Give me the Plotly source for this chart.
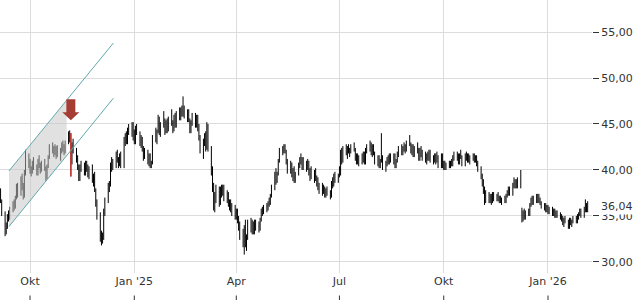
import numpy as np
import pandas as pd
import plotly.graph_objects as go

# ---------------- data ----------------
start_date = "2024-09-04"

opens = [
    38.2,37.8,36.6,35.3,33.4,34.0,35.0,34.8,35.8,36.2,
    36.0,37.0,38.2,37.4,39.0,38.0,37.2,39.6,41.6,40.6,
    40.0,39.8,40.8,40.2,39.6,41.0,40.4,40.0,40.8,40.2,
    39.2,40.4,41.4,42.6,42.0,42.4,41.8,42.4,41.6,42.2,
    42.8,42.4,42.0,43.0,43.8,43.4,41.0,42.6,42.0,41.2,
    40.4,39.0,40.4,40.2,39.6,40.8,40.0,39.4,40.2,38.8,
    39.4,37.8,36.4,35.0,32.8,33.0,32.6,35.4,36.6,38.2,
    38.4,40.4,41.0,40.4,41.8,41.0,40.6,41.6,40.4,43.2,
    43.6,43.0,44.4,44.0,44.8,43.6,43.0,44.6,44.0,42.8,
    43.4,42.2,41.4,42.0,40.8,41.6,40.6,40.8,43.6,43.2,
    44.2,45.6,44.0,45.0,45.2,44.2,45.2,44.4,45.4,45.0,
    44.4,45.8,44.8,46.2,45.6,46.6,46.0,46.8,45.8,46.4,
    45.4,44.2,45.2,46.0,44.8,45.8,44.6,43.6,42.2,43.0,
    43.8,42.4,44.6,42.4,40.0,38.0,36.0,37.2,38.0,36.4,
    38.0,37.4,38.2,36.8,37.4,36.2,36.6,35.6,36.0,35.0,
    35.4,34.6,33.8,32.8,32.0,33.6,32.2,32.6,34.4,33.4,
    34.2,33.2,34.4,33.8,34.0,34.6,35.6,35.4,36.0,35.8,
    36.4,36.6,37.2,38.2,39.6,38.8,39.6,41.0,42.2,42.0,
    42.6,42.0,40.8,39.8,40.6,39.4,40.0,38.8,39.6,40.6,
    41.2,40.8,41.2,40.2,40.8,40.4,39.6,40.0,39.2,39.8,
    39.0,38.6,38.0,38.4,37.6,38.0,37.4,37.8,37.4,37.2,
    38.6,38.4,39.4,38.8,39.4,40.2,41.8,41.0,42.4,41.8,
    42.4,42.0,42.2,42.6,42.2,41.2,41.6,40.8,41.4,41.0,
    41.8,40.8,42.2,42.6,42.4,41.8,42.6,41.8,40.8,41.4,
    40.4,41.0,41.4,40.2,40.8,41.2,40.8,41.6,41.0,41.6,
    40.4,41.0,41.8,42.4,41.8,42.4,42.6,42.2,43.0,42.8,
    42.0,42.6,41.6,42.4,42.2,41.2,42.2,41.6,41.8,41.0,
    41.6,41.2,42.0,41.0,41.4,41.0,41.6,41.0,40.4,41.6,
    40.4,40.8,40.2,40.6,40.4,40.8,40.6,41.4,41.8,41.2,
    40.8,41.6,41.4,40.6,41.6,41.2,41.6,41.0,41.4,41.6,
    41.0,41.4,40.6,40.0,39.2,38.6,37.8,36.6,37.4,36.8,
    37.2,36.6,37.4,36.8,37.2,36.8,37.0,36.6,36.8,36.6,
    37.2,37.6,38.0,37.4,38.4,38.8,38.2,38.8,38.2,35.6,
    34.6,35.4,34.8,35.4,35.2,36.2,36.8,36.4,37.0,36.6,
    37.2,36.6,36.4,36.0,36.2,35.6,36.0,35.4,35.8,35.2,
    35.6,35.0,35.4,35.0,34.8,34.6,34.2,34.6,34.4,33.8,
    34.6,34.2,34.4,34.8,34.4,35.0,35.2,35.6,35.0,35.8,
    36.2,35.6,
]

highs = [
    38.8,38.0,36.8,35.5,34.3,35.2,35.6,36.0,36.6,36.8,
    37.2,38.5,38.6,39.3,39.6,38.6,40.0,42.2,41.8,41.2,
    40.4,41.0,41.4,40.6,41.2,41.6,40.8,41.0,41.2,40.4,
    40.6,41.6,42.8,43.0,42.6,42.8,42.6,42.7,42.4,43.0,
    43.2,42.8,43.2,44.2,44.3,44.0,43.0,43.4,42.4,41.6,
    40.6,40.6,41.0,40.8,41.0,41.0,40.6,40.4,40.6,39.6,
    39.8,38.0,36.8,35.4,33.4,33.2,35.8,37.0,38.6,38.8,
    40.8,41.4,41.2,42.0,42.2,41.4,41.8,42.0,43.6,44.0,
    44.2,44.6,45.0,45.2,45.2,44.4,44.8,45.0,44.2,43.8,
    43.6,42.6,42.4,42.2,41.8,41.8,41.0,43.8,44.6,44.4,
    46.0,45.8,45.2,46.4,45.6,45.4,45.6,45.8,46.6,45.4,
    46.0,46.2,46.4,46.8,46.8,47.0,48.0,47.0,46.6,46.6,
    45.6,45.4,46.2,46.2,46.0,46.0,45.0,43.8,43.4,44.0,
    44.2,45.2,45.0,42.6,40.4,38.6,37.6,38.4,38.2,38.2,
    38.4,38.4,38.4,37.8,37.6,36.8,36.8,36.4,36.2,35.8,
    35.8,35.0,34.4,33.6,34.0,34.6,33.0,34.6,34.8,34.6,
    34.4,34.6,34.6,34.4,34.8,35.8,36.0,36.2,36.4,36.6,
    37.0,37.4,38.4,39.8,40.2,39.8,41.2,42.4,42.6,42.8,
    42.8,42.2,41.2,41.0,40.8,40.2,40.4,39.8,40.8,41.4,
    41.8,41.4,41.4,41.0,41.2,41.0,40.2,40.4,40.0,40.2,
    39.4,39.2,38.6,38.6,38.4,38.2,38.0,38.2,37.8,38.8,
    39.2,39.6,39.8,39.6,40.4,42.2,42.4,42.6,42.8,42.6,
    42.8,42.4,42.8,43.0,42.4,41.8,41.8,41.6,41.8,42.0,
    42.0,42.4,42.8,43.2,43.0,42.8,42.8,42.0,41.6,41.6,
    41.2,44.0,41.6,41.0,41.4,41.6,41.8,41.8,41.8,41.8,
    41.2,42.0,42.6,42.8,42.6,43.0,42.8,43.2,43.8,43.0,
    42.8,42.8,42.6,43.0,42.4,42.4,42.6,42.2,42.0,41.8,
    42.0,42.2,42.2,41.6,41.8,41.8,42.0,41.6,41.8,41.8,
    41.0,41.0,40.8,41.0,41.0,41.2,41.6,42.0,42.0,41.8,
    41.8,42.2,41.6,41.8,42.0,41.8,41.8,41.6,41.8,41.8,
    41.6,41.6,41.0,40.4,39.6,39.0,38.2,37.8,37.6,37.4,
    37.4,37.6,37.6,37.4,37.6,37.2,37.2,37.0,37.2,37.4,
    37.8,38.2,38.2,38.6,39.2,39.0,39.0,39.2,40.0,35.9,
    35.6,35.8,35.6,35.8,36.4,37.0,37.2,37.2,37.4,37.4,
    37.4,37.0,36.6,36.4,36.4,36.2,36.2,36.0,36.0,35.8,
    35.8,35.6,35.6,35.4,35.2,35.0,34.8,35.0,34.6,34.8,
    34.8,34.6,35.0,35.0,35.2,35.4,35.8,35.8,36.0,36.8,
    36.4,36.6,
]

lows = [
    37.6,36.4,35.0,32.8,33.0,33.6,34.4,34.6,35.4,35.6,
    35.8,36.8,37.0,37.2,37.8,36.8,37.0,39.4,40.2,39.6,
    39.3,39.6,40.0,39.4,39.4,40.2,39.6,39.8,39.9,38.8,
    39.0,40.2,41.2,41.8,41.4,41.6,41.2,41.4,41.0,41.8,
    42.0,41.6,41.8,42.8,43.0,39.3,40.6,41.8,40.8,40.0,
    38.8,38.8,39.8,39.4,39.4,39.8,39.2,39.0,38.6,38.2,
    37.6,36.0,34.6,32.2,31.8,32.0,32.4,35.0,36.4,37.6,
    38.2,39.8,40.0,40.2,40.8,40.2,40.4,40.2,40.2,42.6,
    42.8,42.8,43.8,43.6,43.2,42.8,42.8,43.8,42.6,42.4,
    42.0,41.0,41.2,40.6,40.4,40.2,40.2,40.6,43.0,42.8,
    44.0,43.8,43.6,44.6,43.8,44.0,44.0,44.2,44.8,44.0,
    44.2,44.6,44.6,45.4,45.4,45.8,45.8,45.6,45.2,45.2,
    44.0,44.0,44.8,44.6,44.6,44.2,43.2,41.8,41.2,42.6,
    42.0,42.2,42.0,39.4,37.6,35.6,35.4,36.4,36.0,36.2,
    37.0,37.2,36.6,36.4,36.0,35.6,35.4,35.0,34.6,34.6,
    34.2,33.4,32.4,31.6,30.8,31.6,31.2,32.4,33.2,33.0,
    33.0,33.0,33.4,33.2,33.4,34.4,35.0,35.2,35.4,35.6,
    36.0,36.2,37.0,37.8,38.4,38.6,39.4,40.8,41.6,41.8,
    41.8,40.6,39.6,39.6,39.2,38.8,38.6,38.6,39.4,40.2,
    40.6,40.0,40.0,39.8,40.0,39.4,38.8,39.0,38.6,38.8,
    38.2,37.8,37.4,37.2,37.4,37.0,37.0,37.2,36.8,37.0,
    38.0,38.2,38.6,38.6,39.2,39.4,40.6,40.8,41.6,41.2,
    41.8,41.4,41.8,42.0,41.0,40.6,40.6,40.4,40.6,40.8,
    40.6,40.6,41.8,42.0,41.6,41.4,41.6,40.6,40.4,40.2,
    40.2,40.8,40.0,39.8,40.4,40.6,40.6,40.8,40.6,40.2,
    40.2,40.8,41.4,41.6,41.6,42.0,41.8,42.0,42.6,41.8,
    41.6,41.4,41.4,41.8,41.0,41.0,41.4,41.0,40.8,40.6,
    41.0,41.0,40.8,40.6,40.8,40.6,40.8,40.2,40.2,40.2,
    40.0,40.0,40.0,40.2,40.2,40.4,40.4,41.0,41.0,40.6,
    40.6,41.2,40.4,40.4,41.0,40.8,40.8,40.6,41.0,40.8,
    40.8,40.4,39.8,39.0,38.2,37.4,36.2,36.4,36.4,36.4,
    36.2,36.4,36.6,36.6,36.6,36.4,36.4,36.2,36.4,36.4,
    37.0,37.2,37.2,37.2,38.0,38.0,38.0,38.0,38.0,34.3,
    34.4,34.6,34.6,35.0,35.0,36.0,36.2,36.2,36.4,36.4,
    36.4,36.2,35.8,35.6,35.4,35.4,35.2,35.2,35.0,35.0,
    34.8,34.8,34.8,34.6,34.4,34.0,33.8,34.2,33.6,33.6,
    34.0,33.8,34.2,34.2,34.2,34.6,35.0,34.8,34.8,35.4,
    35.4,35.4,
]

closes = [
    37.8,36.6,35.3,33.4,34.0,35.0,34.8,35.8,36.2,36.0,
    37.0,38.2,37.4,39.0,38.0,37.2,39.6,41.6,40.6,40.0,
    39.8,40.8,40.2,39.6,41.0,40.4,40.0,40.8,40.2,39.2,
    40.4,41.4,42.6,42.0,42.4,41.8,42.4,41.6,42.2,42.8,
    42.4,42.0,43.0,43.8,43.4,41.0,42.6,42.0,41.2,40.4,
    39.0,40.4,40.2,39.6,40.8,40.0,39.4,40.2,38.8,39.4,
    37.8,36.4,35.0,32.8,33.0,32.6,35.4,36.6,38.2,38.4,
    40.4,41.0,40.4,41.8,41.0,40.6,41.6,40.4,43.2,43.6,
    43.0,44.4,44.0,44.8,43.6,43.0,44.6,44.0,42.8,43.4,
    42.2,41.4,42.0,40.8,41.6,40.6,40.8,43.6,43.2,44.2,
    45.6,44.0,45.0,45.2,44.2,45.2,44.4,45.4,45.0,44.4,
    45.8,44.8,46.2,45.6,46.6,46.0,46.8,45.8,46.4,45.4,
    44.2,45.2,46.0,44.8,45.8,44.6,43.6,42.2,43.0,43.8,
    42.4,44.6,42.4,40.0,38.0,36.0,37.2,38.0,36.4,38.0,
    37.4,38.2,36.8,37.4,36.2,36.6,35.6,36.0,35.0,35.4,
    34.6,33.8,32.8,32.0,33.6,32.2,32.6,34.4,33.4,34.2,
    33.2,34.4,33.8,34.0,34.6,35.6,35.4,36.0,35.8,36.4,
    36.6,37.2,38.2,39.6,38.8,39.6,41.0,42.2,42.0,42.6,
    42.0,40.8,39.8,40.6,39.4,40.0,38.8,39.6,40.6,41.2,
    40.8,41.2,40.2,40.8,40.4,39.6,40.0,39.2,39.8,39.0,
    38.6,38.0,38.4,37.6,38.0,37.4,37.8,37.4,37.2,38.6,
    38.4,39.4,38.8,39.4,40.2,41.8,41.0,42.4,41.8,42.4,
    42.0,42.2,42.6,42.2,41.2,41.6,40.8,41.4,41.0,41.8,
    40.8,42.2,42.6,42.4,41.8,42.6,41.8,40.8,41.4,40.4,
    41.0,41.4,40.2,40.8,41.2,40.8,41.6,41.0,41.6,40.4,
    41.0,41.8,42.4,41.8,42.4,42.6,42.2,43.0,42.8,42.0,
    42.6,41.6,42.4,42.2,41.2,42.2,41.6,41.8,41.0,41.6,
    41.2,42.0,41.0,41.4,41.0,41.6,41.0,40.4,41.6,40.4,
    40.8,40.2,40.6,40.4,40.8,40.6,41.4,41.8,41.2,40.8,
    41.6,41.4,40.6,41.6,41.2,41.6,41.0,41.4,41.6,41.0,
    41.4,40.6,40.0,39.2,38.6,37.8,36.6,37.4,36.8,37.2,
    36.6,37.4,36.8,37.2,36.8,37.0,36.6,36.8,36.6,37.2,
    37.6,38.0,37.4,38.4,38.8,38.2,38.8,38.2,39.6,34.6,
    35.4,34.8,35.4,35.2,36.2,36.8,36.4,37.0,36.6,37.2,
    36.6,36.4,36.0,36.2,35.6,36.0,35.4,35.8,35.2,35.6,
    35.0,35.4,35.0,34.8,34.6,34.2,34.6,34.4,33.8,34.6,
    34.2,34.4,34.8,34.4,35.0,35.2,35.6,35.0,35.8,36.2,
    35.6,36.04,
]

signal_index = 45            # highlighted (red) bar under the arrow
last_price = 36.04
last_price_label = "36,04"

# trend channel (drawn annotation)
channel_dates = ["2024-09-12 10:00", "2024-12-13 12:00"]
channel_upper = [39.9, 53.8]
channel_lower = [33.85, 47.8]
shade_end_date = "2024-11-02 07:00"

tick_dates = ["2024-10-01", "2025-01-01", "2025-04-01", "2025-07-01", "2025-10-01", "2026-01-01"]
tick_labels = ["Okt", "Jan '25", "Apr", "Jul", "Okt", "Jan '26"]

x_range = ["2024-09-04 12:00", "2026-02-08 20:00"]
y_range = [28.8, 58.48]

# ---------------- figure ----------------
n = len(closes)
assert len(opens) == n and len(highs) == n and len(lows) == n, (len(opens), len(highs), len(lows), n)
dates = pd.bdate_range(start_date, periods=n)

FONT = "DejaVu Sans"
GRID = "#dcdcdc"
TEAL = "#5fa9ad"
TXT = "#333333"

fig = go.Figure()

# shaded part of the channel
cd = pd.to_datetime(channel_dates).astype("int64").to_numpy()
se = pd.Timestamp(shade_end_date).value
up_end = float(np.interp(se, cd, channel_upper))
lo_end = float(np.interp(se, cd, channel_lower))
fig.add_trace(go.Scatter(
    x=[channel_dates[0], shade_end_date, shade_end_date, channel_dates[0], channel_dates[0]],
    y=[channel_upper[0], up_end, lo_end, channel_lower[0], channel_upper[0]],
    fill="toself", fillcolor="rgba(195,195,195,0.5)", line=dict(width=0),
    mode="lines", hoverinfo="skip"))

fig.add_trace(go.Ohlc(
    x=dates, open=opens, high=highs, low=lows, close=closes,
    increasing=dict(line=dict(color="black", width=1)),
    decreasing=dict(line=dict(color="black", width=1)),
    tickwidth=0.4))

si = signal_index
fig.add_trace(go.Ohlc(
    x=[dates[si]], open=[opens[si]], high=[highs[si]], low=[lows[si]], close=[closes[si]],
    increasing=dict(line=dict(color="#d23b35", width=1.4)),
    decreasing=dict(line=dict(color="#d23b35", width=1.4)),
    tickwidth=0.4))

for ys in (channel_upper, channel_lower):
    fig.add_trace(go.Scatter(x=channel_dates, y=ys, mode="lines",
                             line=dict(color=TEAL, width=1), hoverinfo="skip"))

# arrow above the signal bar (pixel-sized, anchored to the bar's high)
fig.add_shape(type="path", xref="x", yref="y", xsizemode="pixel", ysizemode="pixel",
              xanchor=dates[si], yanchor=highs[si],
              path="M -4.5,34 L 4.5,34 L 4.5,21 L 8.5,21 L 0,13 L -8.5,21 L -4.5,21 Z",
              fillcolor="#a63d34", line=dict(width=0), layer="above")

# small tick marks at the very bottom under the date labels
for d in tick_dates:
    fig.add_shape(type="line", xref="x", yref="paper", x0=d, x1=d, y0=0, y1=0.015,
                  line=dict(color=TXT, width=1))

# last price label
fig.add_annotation(x=1, xref="paper", y=last_price, yref="y", text=last_price_label,
                   showarrow=False, xanchor="left", yanchor="middle", xshift=7,
                   bgcolor="white", borderpad=1,
                   font=dict(family=FONT, size=11, color=TXT))

fig.update_layout(
    width=640, height=300,
    margin=dict(l=0, r=48, t=0, b=0),
    paper_bgcolor="white", plot_bgcolor="white",
    showlegend=False, separators=",.",
    font=dict(family=FONT, size=11, color=TXT),
    xaxis=dict(type="date", range=x_range, rangeslider=dict(visible=False),
               tickvals=tick_dates, ticktext=tick_labels, showgrid=True,
               gridcolor=GRID, gridwidth=1, zeroline=False, showline=False,
               ticks="", tickfont=dict(family=FONT, size=11, color=TXT)),
    yaxis=dict(side="right", range=y_range, dtick=5, tick0=0, tickformat=".2f",
               domain=[0.09, 1], showgrid=True, gridcolor=GRID, gridwidth=1,
               zeroline=False, showline=False, ticks="outside", ticklen=6,
               tickcolor=TXT, tickfont=dict(family=FONT, size=11, color=TXT)),
)

fig.write_html("out.html")
